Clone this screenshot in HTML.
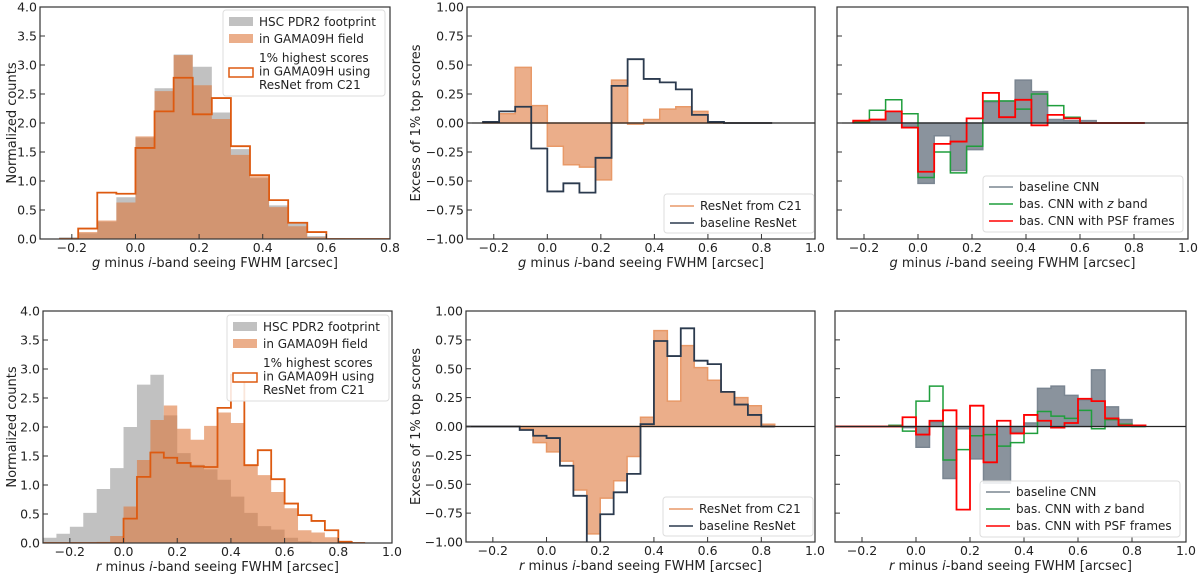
<!DOCTYPE html>
<html><head><meta charset="utf-8"><style>
html,body{margin:0;padding:0;background:#fff;}
svg{display:block;font-family:"DejaVu Sans","Liberation Sans",sans-serif;}
</style></head><body>
<svg id="fig" width="1200" height="575" viewBox="0 0 1200 575" xmlns="http://www.w3.org/2000/svg"></svg>
<script>
// ---- data ----
const topBinStart = -0.24, topBinWidth = 0.06;
const botBinStart = -0.30, botBinWidth = 0.05;
const tlHSC = [0.03,0.1,0.3,0.72,1.75,2.6,3.18,2.97,2.18,1.55,1.05,0.58,0.28,0.05,0.01,0,0,0];
const tlGAMA = [0.01,0.12,0.32,0.63,1.77,2.55,3.17,2.65,2.07,1.45,1.08,0.55,0.22,0.03,0,0,0,0];
const tlTop = [0,0.18,0.8,0.78,1.57,2.2,2.78,2.15,2.43,1.6,1.1,0.67,0.28,0.12,0,0,0,0];
const tmC21 = [0.01,0.08,0.48,0.15,-0.2,-0.36,-0.38,-0.49,0.37,-0.01,0.03,0.12,0.14,0.1,0,0,0,0];
const tmBase = [0.01,0.1,0.14,-0.22,-0.59,-0.52,-0.6,-0.3,0.32,0.55,0.38,0.35,0.29,0.07,0.01,0,0,0];
const trCNN = [0.01,0.02,0.1,-0.03,-0.52,-0.11,-0.41,-0.23,0.18,0.19,0.37,0.27,0.03,0.02,0.02,0,0,0];
const trZ = [0.01,0.11,0.2,0.08,-0.47,-0.25,-0.43,-0.2,0.19,0.19,0.12,0.25,0.15,0.05,0,0,0,0];
const trPSF = [0.02,0.03,0.1,-0.04,-0.42,-0.18,-0.16,0.04,0.26,0.05,0.2,-0.02,0.07,0.04,0,0,0,0];
const blHSC = [0.09,0.16,0.28,0.52,0.93,1.29,2.0,2.73,2.9,2.2,1.55,1.35,1.27,1.09,0.8,0.52,0.29,0.23,0.09,0.03,0.01,0,0,0];
const blGAMA = [0,0,0,0,0.02,0.12,0.63,1.43,2.12,2.37,1.97,1.78,2.02,2.25,2.07,1.36,1.17,0.88,0.6,0.22,0.18,0.1,0.04,0.01];
const blTop = [0,0,0,0,0,0,0.42,1.14,1.56,1.47,1.38,1.32,1.31,2.33,2.9,1.34,1.6,1.1,0.68,0.48,0.38,0.22,0.02,0];
const bmC21 = [0,0,0,0,-0.02,-0.14,-0.22,-0.3,-0.55,-0.93,-0.62,-0.47,-0.26,0.08,0.83,0.22,0.7,0.51,0.4,0.3,0.25,0.18,0.02];
const bmBase = [0,0,0,0,-0.03,-0.08,-0.1,-0.34,-0.6,-1.05,-0.76,-0.57,-0.41,0.02,0.74,0.61,0.85,0.57,0.54,0.3,0.19,0.1,0];
const brCNN = [0,0,0,0,0.01,-0.01,-0.18,0.04,-0.45,-0.02,-0.28,-0.49,-0.49,-0.05,0.03,0.33,0.35,0.27,0.23,0.49,0.17,0.06,0.01];
const brZ = [0,0,0,0,0.01,-0.04,0.22,0.35,-0.29,-0.2,-0.08,-0.07,-0.17,-0.14,-0.06,0.13,0.09,0.07,0.14,-0.02,0.06,0.02,0];
const brPSF = [0,0,0,0,0,0.08,-0.07,0.05,0.14,-0.72,0.18,-0.31,0.05,-0.06,0.1,0.05,-0.01,0.03,0.24,0.22,0.07,0.01,0.01];
const xTicksTop = ["−0.2","0.0","0.2","0.4","0.6","0.8"];
const xTickValsTop = [-0.2,0,0.2,0.4,0.6,0.8];
const xTicksWide = ["−0.2","0.0","0.2","0.4","0.6","0.8","1.0"];
const xTickValsWide = [-0.2,0,0.2,0.4,0.6,0.8,1.0];
const yTicksCounts = ["0.0","0.5","1.0","1.5","2.0","2.5","3.0","3.5","4.0"];
const yTickValsCounts = [0,0.5,1,1.5,2,2.5,3,3.5,4];
const yTicksExcess = ["−1.00","−0.75","−0.50","−0.25","0.00","0.25","0.50","0.75","1.00"];
const yTickValsExcess = [-1,-0.75,-0.5,-0.25,0,0.25,0.5,0.75,1];

const NS="http://www.w3.org/2000/svg";
const fig=document.getElementById('fig');
function mk(tag,attrs,parent){const e=document.createElementNS(NS,tag);for(const k in attrs)e.setAttribute(k,attrs[k]);(parent||fig).appendChild(e);return e;}
let clipId=0;
function panel(p){
  const g=mk('g',{});
  
  
  const sx=v=>p.x0+(v-p.xd[0])/(p.xd[1]-p.xd[0])*(p.x1-p.x0);
  const sy=v=>p.y1-(v-p.yd[0])/(p.yd[1]-p.yd[0])*(p.y1-p.y0);
  const cid='c'+(clipId++);
  const cp=mk('clipPath',{id:cid},g);mk('rect',{x:p.x0,y:p.y0,width:p.x1-p.x0,height:p.y1-p.y0},cp);
  const plot=mk('g',{'clip-path':'url(#'+cid+')'},g);
  function stepPath(vals,start,w,closed){
    let d='M'+sx(start)+','+sy(0);
    vals.forEach((v,i)=>{d+=' L'+sx(start+i*w)+','+sy(v)+' L'+sx(start+(i+1)*w)+','+sy(v);});
    d+=' L'+sx(start+vals.length*w)+','+sy(0);
    if(closed)d+=' Z';
    return d;
  }
  p.series.forEach(s=>{
    const e=mk('path',{d:stepPath(s.vals,p.bs,p.bw,s.fill!=='none'),fill:s.fill,'fill-opacity':s.fo||1,stroke:s.stroke||'none','stroke-width':s.sw||1.5},plot);
    
    
  });
  if(p.zero){const z=mk('line',{x1:p.x0,x2:p.x1,y1:sy(0),y2:sy(0),stroke:'#222','stroke-width':1.2},g);
    }
  const fr=mk('rect',{x:p.x0,y:p.y0,width:p.x1-p.x0,height:p.y1-p.y0,fill:'none',stroke:'#333','stroke-width':1.2},g);
  
  p.xtv.forEach((v,i)=>{const x=sx(v);mk('line',{x1:x,x2:x,y1:p.y1,y2:p.y1-5,stroke:'#333','stroke-width':1},g);
    const t=mk('text',{x:x,y:p.y1+13,'text-anchor':'middle','font-size':12.5,fill:'#222'},g);t.textContent=p.xt[i];
    });
  p.ytv.forEach((v,i)=>{const y=sy(v);mk('line',{x1:p.x0,x2:p.x0+5,y1:y,y2:y,stroke:'#333','stroke-width':1},g);
    if(p.yt){const t=mk('text',{x:p.x0-3,y:y+4.5,'text-anchor':'end','font-size':12.5,fill:'#222'},g);t.textContent=p.yt[i];
    }});
  const xt=mk('text',{x:(p.x0+p.x1)/2,y:p.y1+28,'text-anchor':'middle','font-size':13,fill:'#222'},g);
  xt.innerHTML='<tspan font-style="italic">'+p.band+'</tspan> minus <tspan font-style="italic">i</tspan>-band seeing FWHM [arcsec]';
  
  if(p.ytitle){const yt=mk('text',{x:0,y:0,transform:'translate('+p.ytx+','+((p.y0+p.y1)/2)+') rotate(-90)','text-anchor':'middle','font-size':13,fill:'#222'},g);
    yt.textContent=p.ytitle;}
  if(p.legend){const L=p.legend;
    const lg=mk('g',{},g);
    mk('rect',{x:L.x,y:L.y,width:L.w,height:L.h,rx:3,fill:'#fff','fill-opacity':0.85,stroke:'#ddd'},lg);
    L.items.forEach(it=>{
      const ig=mk('g',{},lg);
      if(it.type==='patch')mk('rect',{x:L.x+6,y:it.y-5,width:24,height:9,fill:it.c,'fill-opacity':it.fo||1,stroke:it.sc||'none','stroke-width':1.5},ig);
      else mk('line',{x1:L.x+6,x2:L.x+30,y1:it.y,y2:it.y,stroke:it.c,'stroke-width':1.6},ig);
      (it.lines).forEach((ln,k)=>{const t=mk('text',{x:L.x+36,y:it.ty+k*13.5,'font-size':12,fill:'#222'},ig);t.innerHTML=ln;});
    });}
}
const GREY='rgb(160,160,160)',ORG='rgb(221,120,60)',OUT='#dd5a10',NAVY='#2b3a4e',CNN='#7a8591',GRN='#1f9e3c',RED='#ff0000',C21E='#e89968';
const legL=(x,y)=>({x:x,y:y,w:162,h:86,items:[
  {type:'patch',c:GREY,fo:0.65,y:y+12,ty:y+16,lines:['HSC PDR2 footprint']},
  {type:'patch',c:ORG,fo:0.6,y:y+29,ty:y+33,lines:['in GAMA09H field']},
  {type:'patch',c:'#fff',sc:OUT,y:y+63,ty:y+52,lines:['1% highest scores','in GAMA09H using','ResNet from C21']}]});
const legM=(x,y)=>({x:x,y:y,w:150,h:39,items:[
  {type:'line',c:C21E,y:y+12,ty:y+16,lines:['ResNet from C21']},
  {type:'line',c:NAVY,y:y+29,ty:y+33,lines:['baseline ResNet']}]});
const legR=(x,y)=>({x:x,y:y,w:200,h:56,items:[
  {type:'line',c:CNN,y:y+11,ty:y+15,lines:['baseline CNN']},
  {type:'line',c:GRN,y:y+28,ty:y+32,lines:['bas. CNN with <tspan font-style="italic">z</tspan> band']},
  {type:'line',c:RED,y:y+45,ty:y+49,lines:['bas. CNN with PSF frames']}]});

panel({name:'panel-g-counts',x0:40,x1:390,y0:7,y1:239,xd:[-0.3,0.8],yd:[0,4],bs:topBinStart,bw:topBinWidth,band:'g',
  xt:xTicksTop,xtv:xTickValsTop,yt:yTicksCounts,ytv:yTickValsCounts,ytitle:'Normalized counts',ytx:16,
  series:[{name:'hsc-footprint-hist',vals:tlHSC,fill:GREY,fo:0.65},{name:'gama09h-hist',vals:tlGAMA,fill:ORG,fo:0.6},{name:'top-scores-hist',vals:tlTop,fill:'none',stroke:OUT,sw:1.8}],
  legend:legL(223,10)});
panel({name:'panel-g-excess-resnet',x0:467,x1:815,y0:7,y1:239,xd:[-0.3,1.0],yd:[-1,1],bs:topBinStart,bw:topBinWidth,band:'g',zero:true,
  xt:xTicksWide,xtv:xTickValsWide,yt:yTicksExcess,ytv:yTickValsExcess,ytitle:'Excess of 1% top scores',ytx:420,
  series:[{name:'resnet-c21-excess',vals:tmC21,fill:ORG,fo:0.6,stroke:C21E,sw:1.5},{name:'baseline-resnet-excess',vals:tmBase,fill:'none',stroke:NAVY,sw:1.8}],
  legend:legM(664,194)});
panel({name:'panel-g-excess-cnn',x0:837,x1:1188,y0:7,y1:239,xd:[-0.3,1.0],yd:[-1,1],bs:topBinStart,bw:topBinWidth,band:'g',zero:true,
  xt:xTicksWide,xtv:xTickValsWide,yt:null,ytv:yTickValsExcess,
  series:[{name:'baseline-cnn-excess',vals:trCNN,fill:'#8a939d',stroke:CNN,sw:1.5},{name:'cnn-z-band-excess',vals:trZ,fill:'none',stroke:GRN,sw:1.5},{name:'cnn-psf-excess',vals:trPSF,fill:'none',stroke:RED,sw:1.8}],
  legend:legR(983,176)});
panel({name:'panel-r-counts',x0:43,x1:392,y0:311,y1:543,xd:[-0.3,1.0],yd:[0,4],bs:botBinStart,bw:botBinWidth,band:'r',
  xt:xTicksWide,xtv:xTickValsWide,yt:yTicksCounts,ytv:yTickValsCounts,ytitle:'Normalized counts',ytx:16,
  series:[{name:'hsc-footprint-hist',vals:blHSC,fill:GREY,fo:0.65},{name:'gama09h-hist',vals:blGAMA,fill:ORG,fo:0.6},{name:'top-scores-hist',vals:blTop,fill:'none',stroke:OUT,sw:1.8}],
  legend:legL(227,315)});
panel({name:'panel-r-excess-resnet',x0:466,x1:815,y0:311,y1:542,xd:[-0.3,1.0],yd:[-1,1],bs:botBinStart,bw:botBinWidth,band:'r',zero:true,
  xt:xTicksWide,xtv:xTickValsWide,yt:yTicksExcess,ytv:yTickValsExcess,ytitle:'Excess of 1% top scores',ytx:420,
  series:[{name:'resnet-c21-excess',vals:bmC21,fill:ORG,fo:0.6,stroke:C21E,sw:1.5},{name:'baseline-resnet-excess',vals:bmBase,fill:'none',stroke:NAVY,sw:1.8}],
  legend:legM(663,497)});
panel({name:'panel-r-excess-cnn',x0:835,x1:1186,y0:311,y1:542,xd:[-0.3,1.0],yd:[-1,1],bs:botBinStart,bw:botBinWidth,band:'r',zero:true,
  xt:xTicksWide,xtv:xTickValsWide,yt:null,ytv:yTickValsExcess,
  series:[{name:'baseline-cnn-excess',vals:brCNN,fill:'#8a939d',stroke:CNN,sw:1.5},{name:'cnn-z-band-excess',vals:brZ,fill:'none',stroke:GRN,sw:1.5},{name:'cnn-psf-excess',vals:brPSF,fill:'none',stroke:RED,sw:1.8}],
  legend:legR(980,481)});
</script>
</body></html>
